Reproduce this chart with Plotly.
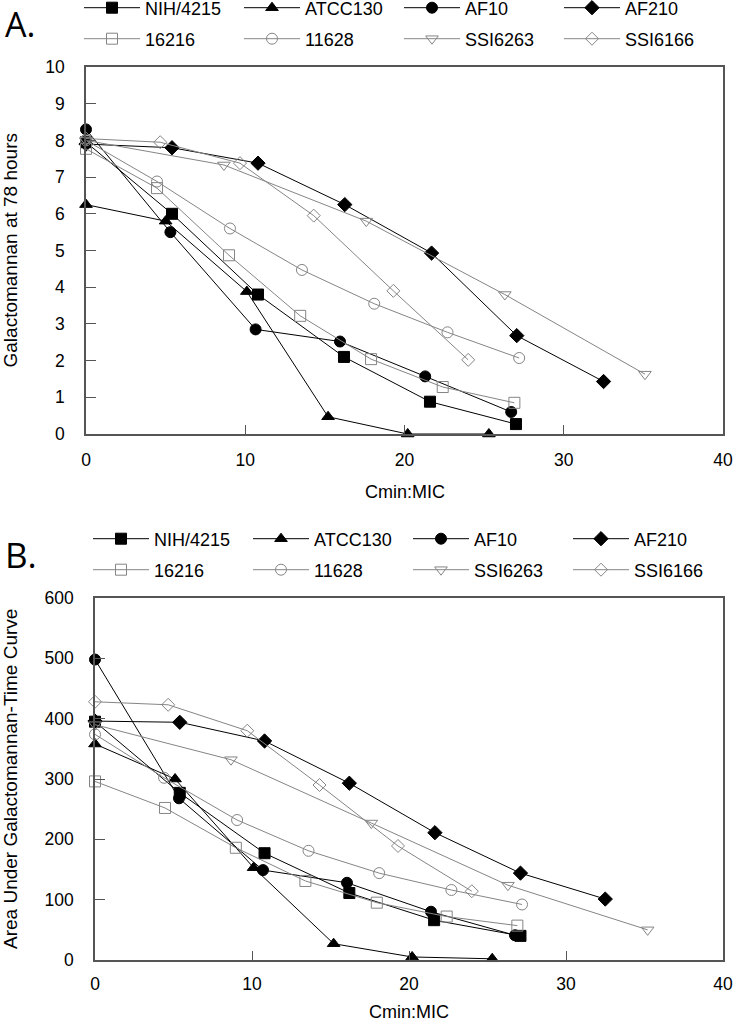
import plotly.graph_objects as go

# ---------------- data ----------------
strains = ["NIH/4215", "ATCC130", "AF10", "AF210", "16216", "11628", "SSI6263", "SSI6166"]

# Panel A: Galactomannan at 78 hours vs Cmin:MIC
a_nih_x = [0, 5.4, 10.8, 16.2, 21.6, 27.0]
a_nih_y = [7.95, 6.0, 3.8, 2.1, 0.88, 0.27]
a_atcc_x = [0, 5.0, 10.1, 15.2, 20.2, 25.3]
a_atcc_y = [6.25, 5.8, 3.88, 0.47, 0, 0]
a_af10_x = [0, 5.3, 10.65, 15.95, 21.3, 26.7]
a_af10_y = [8.3, 5.5, 2.85, 2.52, 1.57, 0.6]
a_af210_x = [0, 5.4, 10.8, 16.25, 21.7, 27.05, 32.5]
a_af210_y = [7.9, 7.8, 7.38, 6.25, 4.93, 2.68, 1.43]
a_16216_x = [0, 4.46, 8.98, 13.45, 17.9, 22.4, 26.9]
a_16216_y = [7.77, 6.7, 4.87, 3.22, 2.04, 1.28, 0.85]
a_11628_x = [0, 4.46, 9.04, 13.56, 18.1, 22.7, 27.2]
a_11628_y = [8.0, 6.88, 5.6, 4.47, 3.55, 2.77, 2.07]
a_ssi6263_x = [0, 8.66, 17.6, 26.3, 35.1]
a_ssi6263_y = [8.0, 7.33, 5.8, 3.8, 1.63]
a_ssi6166_x = [0, 4.66, 9.67, 14.3, 19.3, 24.0]
a_ssi6166_y = [8.05, 7.95, 7.38, 5.95, 3.9, 2.02]

# Panel B: Area under galactomannan-time curve vs Cmin:MIC
b_nih_x = [0, 5.4, 10.8, 16.2, 21.6, 27.1]
b_nih_y = [395, 277, 177, 111, 66, 40]
b_atcc_x = [0, 5.1, 10.1, 15.2, 20.2, 25.3]
b_atcc_y = [358, 300, 153, 27, 5, 2]
b_af10_x = [0, 5.35, 10.7, 16.05, 21.4, 26.75]
b_af10_y = [498, 268, 149, 128, 80, 41]
b_af210_x = [0, 5.4, 10.8, 16.2, 21.65, 27.1, 32.5]
b_af210_y = [396, 394, 363, 293, 211, 144, 101]
b_16216_x = [0, 4.46, 8.97, 13.4, 17.95, 22.4, 26.9]
b_16216_y = [296, 252, 186, 131, 95, 72, 57]
b_11628_x = [0, 4.4, 9.05, 13.6, 18.1, 22.7, 27.2]
b_11628_y = [374, 302, 232, 181, 144, 116, 92]
b_ssi6263_x = [0, 8.66, 17.6, 26.3, 35.2]
b_ssi6263_y = [390, 332, 227, 124, 50]
b_ssi6166_x = [0, 4.66, 9.7, 14.3, 19.3, 24.0]
b_ssi6166_y = [428, 423, 380, 290, 189, 114]

x_ticks = [0, 10, 20, 30, 40]
a_y_ticks = list(range(0, 11))
b_y_ticks = [0, 100, 200, 300, 400, 500, 600]

x_title = "Cmin:MIC"
a_y_title = "Galactomannan at 78 hours"
b_y_title = "Area Under Galactomannan-Time Curve"

panel_a = [(a_nih_x, a_nih_y), (a_atcc_x, a_atcc_y), (a_af10_x, a_af10_y), (a_af210_x, a_af210_y),
           (a_16216_x, a_16216_y), (a_11628_x, a_11628_y), (a_ssi6263_x, a_ssi6263_y), (a_ssi6166_x, a_ssi6166_y)]
panel_b = [(b_nih_x, b_nih_y), (b_atcc_x, b_atcc_y), (b_af10_x, b_af10_y), (b_af210_x, b_af210_y),
           (b_16216_x, b_16216_y), (b_11628_x, b_11628_y), (b_ssi6263_x, b_ssi6263_y), (b_ssi6166_x, b_ssi6166_y)]

# ---------------- styles ----------------
BLACK = "#000000"
GRAY = "#858585"
styles = [
    dict(symbol="square", size=11, color=BLACK),
    dict(symbol="triangle-up", size=11, color=BLACK),
    dict(symbol="circle", size=11, color=BLACK),
    dict(symbol="diamond", size=11, color=BLACK),
    dict(symbol="square-open", size=11, color=GRAY),
    dict(symbol="circle-open", size=11, color=GRAY),
    dict(symbol="triangle-down-open", size=11, color=GRAY),
    dict(symbol="diamond-open", size=10, color=GRAY),
]

FONT = "Liberation Sans, Arial, sans-serif"
W, H = 733, 1024
ML, MR = 86, 10
PW = W - ML - MR

fig = go.Figure()

for panel, xa, ya, legs in [(panel_a, "x", "y", ("legend", "legend2")),
                            (panel_b, "x2", "y2", ("legend3", "legend4"))]:
    for i, (xs, ys) in enumerate(panel):
        st = styles[i]
        fig.add_trace(go.Scatter(
            x=xs, y=ys, name=strains[i], xaxis=xa, yaxis=ya,
            mode="lines+markers", cliponaxis=False,
            legend=legs[0] if i < 4 else legs[1],
            line=dict(color=st["color"], width=1),
            marker=dict(symbol=st["symbol"], size=st["size"], color=st["color"],
                        line=dict(color=st["color"], width=1)),
        ))

axis_common = dict(
    showline=True, mirror=True, linecolor="#555555", linewidth=1.5,
    ticks="inside", tickcolor="#555555", tickwidth=1.2,
    showgrid=False, zeroline=False,
    tickfont=dict(family=FONT, size=17.5, color="black"),
)


def px_y(p):
    return 1 - p / H


fig.update_layout(
    width=W, height=H,
    margin=dict(l=ML, r=MR, t=0, b=0, autoexpand=False),
    paper_bgcolor="white", plot_bgcolor="white",
    font=dict(family=FONT, size=17, color="black"),
    xaxis=dict(domain=[0, 1], range=[0, 40], tickvals=x_ticks, ticklen=9,
               ticklabelstandoff=9, anchor="y", **axis_common),
    yaxis=dict(domain=[px_y(434), px_y(67)], range=[0, 10], tickvals=a_y_ticks, ticklen=10,
               ticklabelstandoff=16, anchor="x", **axis_common),
    xaxis2=dict(domain=[(95 - ML) / PW, 1], range=[0, 40], tickvals=x_ticks, ticklen=9,
                ticklabelstandoff=7, anchor="y2", **axis_common),
    yaxis2=dict(domain=[px_y(960), px_y(598)], range=[0, 600], tickvals=b_y_ticks, ticklen=10,
                ticklabelstandoff=16, anchor="x2", **axis_common),
    showlegend=True,
)

leg_common = dict(orientation="h", xref="container", yref="container", xanchor="left", yanchor="middle",
                  bgcolor="rgba(0,0,0,0)", borderwidth=0, itemwidth=56,
                  entrywidth=89, entrywidthmode="pixels",
                  font=dict(family=FONT, size=18, color="black"), traceorder="normal",
                  itemclick=False, itemdoubleclick=False)
fig.update_layout(
    legend=dict(x=79 / W, y=px_y(8), **leg_common),
    legend2=dict(x=79 / W, y=px_y(39), **leg_common),
    legend3=dict(x=88 / W, y=px_y(539), **leg_common),
    legend4=dict(x=88 / W, y=px_y(570), **leg_common),
)

# axis titles
title_font = dict(family=FONT, size=18, color="black")
ytitle_font = dict(family=FONT, size=19, color="black")
fig.add_annotation(text=x_title, xref="x domain", yref="paper", x=0.5, y=px_y(492),
                   xanchor="center", yanchor="middle", showarrow=False, font=title_font)
fig.add_annotation(text=x_title, xref="x2 domain", yref="paper", x=0.5, y=px_y(1012),
                   xanchor="center", yanchor="middle", showarrow=False, font=title_font)
fig.add_annotation(text=a_y_title, xref="paper", yref="paper", x=(10 - ML) / PW, y=px_y(250.5),
                   xanchor="center", yanchor="middle", textangle=-90, showarrow=False, font=ytitle_font)
fig.add_annotation(text=b_y_title, xref="paper", yref="paper", x=(10 - ML) / PW, y=px_y(779),
                   xanchor="center", yanchor="middle", textangle=-90, showarrow=False, font=ytitle_font)

# panel labels
fig.add_annotation(text="A.", xref="paper", yref="paper", x=(3 - ML) / PW, y=px_y(24),
                   xanchor="left", yanchor="middle", showarrow=False,
                   font=dict(family="Open Sans, sans-serif", size=34, color="black"))
fig.add_annotation(text="B.", xref="paper", yref="paper", x=(3 - ML) / PW, y=px_y(554),
                   xanchor="left", yanchor="middle", showarrow=False,
                   font=dict(family="Open Sans, sans-serif", size=35, color="black"))

fig.write_html("out.html", config={"displayModeBar": False},
               post_script="document.body.style.margin='0';document.body.style.overflow='hidden';")
